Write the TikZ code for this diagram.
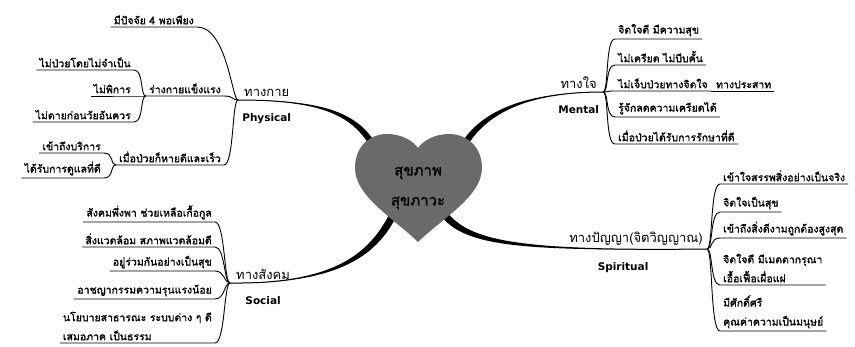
\documentclass[tikz,border=0pt]{standalone}
\usepackage{fontspec}
\setmainfont[Script=Thai, BoldFont=Loma, BoldFeatures={FakeBold=1.3}]{Loma}
\newfontfamily\latin{DejaVu Sans}
\usetikzlibrary{positioning,calc}
\definecolor{heartgray}{RGB}{106,106,106}
\newcommand{\limb}[5]{\fill (#1) .. controls #2 and #3 .. (#4) -- ++#5 .. controls ($#3+#5$) and #2 .. (#1) -- cycle;\draw[stem] (#1) .. controls #2 and #3 .. (#4);}
\tikzset{
  stem/.style={line width=1pt},
  twig/.style={line width=0.9pt},
  twigR/.style={twig, to path={.. controls +(6,0) and +(-#1,0) .. (\tikztotarget)}},
  twigR/.default=10,
  twigL/.style={twig, to path={.. controls +(-6,0) and +(#1,0) .. (\tikztotarget)}},
  twigL/.default=10,
  leaf/.style={font=\fontsize{10.5}{19}\selectfont\bfseries, inner xsep=3pt, inner ysep=2.5pt, align=left},
  leafR/.style={leaf, anchor=south west},
  leafR/.style={leaf, anchor=south west},
  leafL/.style={leaf, anchor=south east},
  branch/.style={font=\fontsize{13}{15}\selectfont, inner sep=2pt},
  tag/.style={font=\latin\bfseries\fontsize{10.5}{12}\selectfont, inner sep=2pt},
  core/.style={font=\fontsize{15}{30}\selectfont\bfseries, align=center}
}

\begin{document}
\begin{tikzpicture}[x=1pt, y=-1pt]
\useasboundingbox (0,0) rectangle (855,346);
% forks
\coordinate (pfork) at (238,100);
\coordinate (mfork) at (603,92);
\coordinate (sfork) at (230,283);
\coordinate (spfork) at (707,249);
% limb ends, hidden under the heart
\coordinate (hPh) at (374,152);
\coordinate (hMe) at (463,152);
\coordinate (hSo) at (390,214);
\coordinate (hSp) at (447,213);
\limb{pfork}{(322,100)}{(354,114)}{hPh}{(5,-3)}
\limb{mfork}{(528,92)}{(484,112)}{hMe}{(-5,-3)}
\limb{sfork}{(322,284)}{(366,262)}{hSo}{(6,3)}
\limb{spfork}{(530,251)}{(472,244)}{hSp}{(-5,4)}
% heart
\fill[heartgray] (418,242) .. controls (392,217) and (355,196) .. (355,168)
  .. controls (355,146) and (370,134) .. (387,134) .. controls (402,134) and (413,141) .. (418,148)
  .. controls (423,141) and (434,134) .. (449,134) .. controls (466,134) and (482,146) .. (482,168)
  .. controls (482,196) and (444,217) .. (418,242) -- cycle;
\node[core] (core) at (418,188) {สุขภาพ\\สุขภาวะ};

% physical
\node[branch, above right=1pt and 4pt of pfork] (phyTh) {ทางกาย};
\node[tag, below=12pt of phyTh] (phyEn) {Physical};
\node[leafL] (ph1) at (197,27) {มีปัจจัย 4 พอเพียง};
\node[leafL] (ph2) at (224,96) {ร่างกายแข็งแรง};
\node[leafL] (ph3) at (224,165) {เมื่อป่วยก็หายดีและเร็ว};
\node[leafL] (ph2a) at ($(ph2.south west)+(-12,-26)$) {ไม่ป่วยโดยไม่จำเป็น};
\node[leafL] (ph2b) at ($(ph2.south west)+(-12,0)$) {ไม่พิการ};
\node[leafL] (ph2c) at ($(ph2.south west)+(-12,26)$) {ไม่ตายก่อนวัยอันควร};
\node[leafL] (ph3a) at ($(ph3.south west)+(-12,-12)$) {เข้าถึงบริการ};
\node[leafL] (ph3b) at ($(ph3.south west)+(-12,13)$) {ได้รับการดูแลที่ดี};
\draw[twigL=30] (pfork) to (ph1.south east) -- (ph1.south west);
\foreach \n in {ph2,ph3}
  \draw[twigL] (pfork) to (\n.south east) -- (\n.south west);
\foreach \n in {ph2a,ph2b,ph2c}
  \draw[twigL] (ph2.south west) to (\n.south east) -- (\n.south west);
\foreach \n in {ph3a,ph3b}
  \draw[twigL] (ph3.south west) to (\n.south east) -- (\n.south west);

% mental
\node[branch, above left=1pt and 4pt of mfork] (menTh) {ทางใจ};
\node[tag, below=12pt of menTh] (menEn) {Mental};
\node[leafR] (me1) at (615,39) {จิตใจดี มีความสุข};
\node[leafR] (me2) at (615,65) {ไม่เครียด ไม่บีบคั้น};
\node[leafR] (me3) at (615,91) {ไม่เจ็บป่วยทางจิตใจ};
\node[leafR] (me3x) at ($(me3.south east)+(2,0)$) {ทางประสาท};
\node[leafR] (me4) at (615,117) {รู้จักลดความเครียดได้};
\node[leafR] (me5) at (615,144) {เมื่อป่วยได้รับการรักษาที่ดี};
\foreach \n in {me1,me2,me3,me4,me5}
  \draw[twigR] (mfork) to (\n.south west) -- (\n.south east);
\draw[twig] (me3.south east) -- (me3x.south east);

% social
\node[branch, above right=1pt and 4pt of sfork] (socTh) {ทางสังคม};
\node[tag, below=12pt of socTh] (socEn) {Social};
\node[leafL] (so1) at (215,222) {สังคมพึ่งพา ช่วยเหลือเกื้อกูล};
\node[leafL] (so2) at (215,247) {สิ่งแวดล้อม สภาพแวดล้อมดี};
\node[leafL] (so3) at (215,271) {อยู่ร่วมกันอย่างเป็นสุข};
\node[leafL] (so4) at (215,299) {อาชญากรรมความรุนแรงน้อย};
\node[leafL] (so5) at (215,343) {นโยบายสาธารณะ ระบบต่าง ๆ ดี\\เสมอภาค เป็นธรรม};
\foreach \n in {so1,so2,so3,so4,so5}
  \draw[twigL] (sfork) to (\n.south east) -- (\n.south west);

% spiritual
\node[branch, above left=1pt and 2pt of spfork] (spiTh) {ทางปัญญา(จิตวิญญาณ)};
\node[tag, below=12pt of spiTh, xshift=-13pt] (spiEn) {Spiritual};
\node[leafR] (sp1) at (720,184) {เข้าใจสรรพสิ่งอย่างเป็นจริง};
\node[leafR] (sp2) at (720,212) {จิตใจเป็นสุข};
\node[leafR] (sp3) at (720,238) {เข้าถึงสิ่งดีงามถูกต้องสูงสุด};
\node[leafR] (sp4) at (720,285) {จิตใจดี มีเมตตากรุณา\\เอื้อเฟื้อเผื่อแผ่};
\node[leafR] (sp5) at (720,331) {มีศักดิ์ศรี\\คุณค่าความเป็นมนุษย์};
\foreach \n in {sp1,sp2,sp3,sp4,sp5}
  \draw[twigR] (spfork) to (\n.south west) -- (\n.south east);
\end{tikzpicture}
\end{document}
